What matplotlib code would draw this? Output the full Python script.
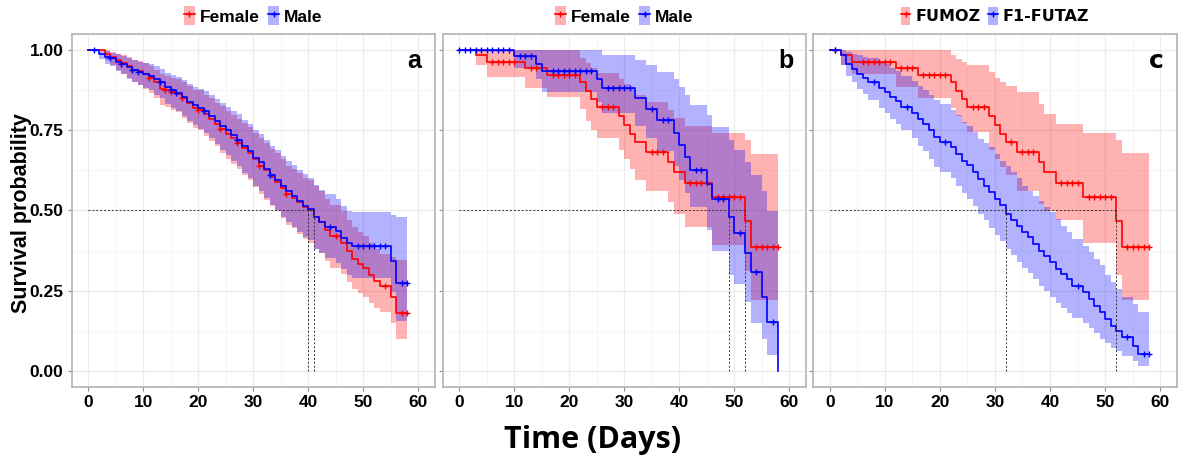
import matplotlib
matplotlib.use("Agg")
import numpy as np
import matplotlib.pyplot as plt
from matplotlib.patches import Patch
from matplotlib.lines import Line2D

# ---------------- data: Kaplan-Meier estimates (time in days) ----------------
T_END = 58

# panel a: Female / Male
a_f_time = [0, 3, 4, 5, 6, 7, 8, 9, 10, 11, 12, 13, 14, 15, 16, 17, 18, 19, 20, 21,
            22, 23, 24, 25, 26, 27, 28, 29, 30, 31, 32, 33, 34, 35, 36, 37, 38, 39, 40, 41,
            42, 43, 44, 46, 47, 48, 49, 50, 51, 52, 53, 55, 56]
a_f_surv = [1.0, 0.99, 0.98, 0.97, 0.96, 0.95, 0.94, 0.935, 0.925, 0.915, 0.90, 0.88, 0.875, 0.87,
            0.865, 0.85, 0.835, 0.82, 0.815, 0.80, 0.785, 0.77, 0.755, 0.74, 0.725, 0.71, 0.695,
            0.68, 0.66, 0.64, 0.625, 0.605, 0.59, 0.57, 0.55, 0.54, 0.525, 0.51, 0.50, 0.48,
            0.465, 0.44, 0.42, 0.40, 0.373, 0.35, 0.334, 0.32, 0.30, 0.28, 0.265, 0.23, 0.18]
a_f_lo = [1.0, 0.97, 0.955, 0.94, 0.925, 0.913, 0.90, 0.893, 0.88, 0.868, 0.85, 0.828, 0.822, 0.815,
          0.808, 0.79, 0.773, 0.757, 0.75, 0.733, 0.716, 0.70, 0.68, 0.66, 0.645, 0.628, 0.61,
          0.594, 0.572, 0.55, 0.534, 0.513, 0.497, 0.476, 0.455, 0.444, 0.428, 0.412, 0.40, 0.381,
          0.366, 0.342, 0.322, 0.303, 0.278, 0.256, 0.242, 0.23, 0.212, 0.195, 0.182, 0.15, 0.10]
a_f_hi = [1.0, 1.0, 0.995, 0.99, 0.985, 0.978, 0.97, 0.966, 0.96, 0.952, 0.94, 0.925, 0.92, 0.915,
          0.912, 0.90, 0.89, 0.877, 0.875, 0.862, 0.85, 0.837, 0.825, 0.81, 0.797, 0.785, 0.772,
          0.76, 0.742, 0.725, 0.71, 0.692, 0.678, 0.66, 0.64, 0.63, 0.617, 0.603, 0.595, 0.575,
          0.56, 0.537, 0.517, 0.497, 0.47, 0.447, 0.432, 0.42, 0.40, 0.38, 0.365, 0.355, 0.344]
a_f_cens = [6, 8, 11, 14, 15, 17, 20, 24, 27, 31, 36, 45, 54, 57, 58]

a_m_time = [0, 2, 3, 4, 5, 6, 7, 8, 9, 10, 11, 12, 13, 14, 15, 16, 17, 18, 19, 20, 21, 22, 23,
            24, 25, 26, 27, 28, 29, 30, 31, 32, 33, 34, 35, 36, 37, 38, 39, 40, 41, 42, 43,
            45, 46, 47, 48, 55, 56]
a_m_surv = [1.0, 0.99, 0.98, 0.975, 0.965, 0.958, 0.948, 0.94, 0.932, 0.925, 0.92, 0.91, 0.90,
            0.885, 0.875, 0.868, 0.855, 0.84, 0.83, 0.82, 0.81, 0.795, 0.78, 0.765, 0.75, 0.735,
            0.72, 0.70, 0.685, 0.665, 0.65, 0.63, 0.61, 0.595, 0.575, 0.56, 0.545, 0.53, 0.515,
            0.505, 0.48, 0.465, 0.45, 0.435, 0.415, 0.40, 0.388, 0.342, 0.273]
a_m_lo = [1.0, 0.972, 0.958, 0.95, 0.936, 0.926, 0.912, 0.902, 0.892, 0.882, 0.875, 0.862, 0.85,
          0.832, 0.82, 0.812, 0.796, 0.778, 0.766, 0.754, 0.742, 0.725, 0.708, 0.69, 0.673, 0.656,
          0.64, 0.617, 0.60, 0.578, 0.562, 0.54, 0.518, 0.502, 0.48, 0.465, 0.449, 0.433, 0.417,
          0.407, 0.381, 0.366, 0.351, 0.336, 0.316, 0.30, 0.29, 0.245, 0.156]
a_m_hi = [1.0, 1.0, 0.997, 0.993, 0.988, 0.983, 0.976, 0.97, 0.965, 0.96, 0.956, 0.95, 0.942,
          0.93, 0.922, 0.917, 0.906, 0.895, 0.887, 0.88, 0.872, 0.86, 0.848, 0.836, 0.824, 0.812,
          0.80, 0.782, 0.77, 0.752, 0.738, 0.72, 0.702, 0.688, 0.67, 0.655, 0.641, 0.627, 0.613,
          0.603, 0.58, 0.565, 0.55, 0.535, 0.515, 0.50, 0.495, 0.487, 0.479]
a_m_cens = [1, 4, 6, 8, 9, 13, 15, 16, 21, 27, 33, 44, 49, 50, 51, 52, 53, 54, 57, 58]

# panel b: Female / Male
b_f_time = [0, 3, 5, 12, 16, 22, 23, 24, 25, 29, 30, 31, 32, 34, 38, 39, 41, 46, 52, 53]
b_f_surv = [1.0, 0.984, 0.965, 0.944, 0.922, 0.90, 0.872, 0.847, 0.823, 0.795, 0.768, 0.74,
            0.714, 0.684, 0.65, 0.62, 0.585, 0.542, 0.466, 0.385]
b_f_lo = [1.0, 0.953, 0.918, 0.882, 0.854, 0.818, 0.78, 0.752, 0.725, 0.69, 0.66, 0.628, 0.595,
          0.56, 0.525, 0.49, 0.448, 0.392, 0.31, 0.22]
b_f_hi = [1.0, 1.0, 1.0, 1.0, 1.0, 0.975, 0.96, 0.945, 0.93, 0.91, 0.895, 0.875, 0.86, 0.84,
          0.815, 0.79, 0.765, 0.742, 0.72, 0.675]
b_f_cens = [6, 7, 8, 9, 10, 13, 14, 17, 18, 19, 20, 21, 26, 27, 28, 35, 36, 37, 42, 43, 44, 45,
            47, 48, 49, 50, 51, 54, 55, 56, 57, 58]

b_m_time = [0, 10, 14, 15, 25, 26, 32, 34, 36, 39, 40, 41, 42, 45, 46, 49, 50, 52, 53, 55, 56, 58]
b_m_surv = [1.0, 0.981, 0.958, 0.937, 0.911, 0.882, 0.85, 0.818, 0.783, 0.742, 0.703, 0.667,
            0.625, 0.583, 0.536, 0.48, 0.43, 0.368, 0.307, 0.229, 0.153, 0.0]
b_m_lo = [1.0, 0.945, 0.912, 0.87, 0.84, 0.805, 0.765, 0.727, 0.685, 0.64, 0.595, 0.555, 0.51,
          0.44, 0.375, 0.30, 0.27, 0.213, 0.15, 0.10, 0.05, 0.0]
b_m_hi = [1.0, 1.0, 1.0, 1.0, 1.0, 0.986, 0.969, 0.953, 0.932, 0.911, 0.885, 0.859, 0.828, 0.797,
          0.76, 0.72, 0.69, 0.65, 0.61, 0.56, 0.50, 0.0]
b_m_cens = [0, 1, 2, 3, 4, 5, 6, 7, 8, 9, 11, 12, 13, 17, 18, 19, 20, 21, 22, 23, 24, 27, 28, 29,
            30, 31, 35, 37, 38, 43, 44, 47, 48, 51, 54, 57]

# panel c: FUMOZ / F1-FUTAZ
c_f_time = [0, 2, 4, 12, 16, 22, 23, 24, 25, 29, 30, 31, 32, 34, 38, 39, 41, 46, 52, 53]
c_f_surv = [1.0, 0.984, 0.964, 0.945, 0.924, 0.90, 0.872, 0.847, 0.823, 0.795, 0.768, 0.74,
            0.714, 0.684, 0.65, 0.62, 0.585, 0.542, 0.466, 0.385]
c_f_lo = [1.0, 0.955, 0.925, 0.885, 0.851, 0.82, 0.795, 0.772, 0.745, 0.69, 0.66, 0.635, 0.61,
          0.56, 0.52, 0.50, 0.47, 0.40, 0.30, 0.22]
c_f_hi = [1.0, 1.0, 1.0, 1.0, 1.0, 0.986, 0.974, 0.965, 0.953, 0.932, 0.915, 0.90, 0.89, 0.87,
          0.833, 0.802, 0.771, 0.742, 0.719, 0.679]
c_f_cens = [1, 6, 7, 8, 9, 10, 11, 13, 14, 15, 17, 18, 19, 20, 21, 26, 27, 28, 33, 35, 36, 37,
            42, 43, 44, 45, 47, 48, 49, 50, 51, 54, 55, 56, 57, 58]

c_m_time = [0, 2, 3, 4, 5, 6, 7, 9, 10, 11, 12, 13, 15, 16, 17, 18, 19, 20, 22, 23, 24, 25, 26,
            27, 28, 29, 30, 31, 32, 33, 34, 35, 36, 37, 38, 39, 40, 41, 42, 43, 44, 46, 47, 48,
            49, 50, 51, 52, 53, 55, 56]
c_m_surv = [1.0, 0.984, 0.958, 0.943, 0.927, 0.914, 0.901, 0.882, 0.870, 0.854, 0.841, 0.823,
            0.805, 0.786, 0.771, 0.75, 0.729, 0.714, 0.698, 0.677, 0.656, 0.641, 0.62, 0.599,
            0.578, 0.557, 0.536, 0.516, 0.49, 0.469, 0.453, 0.432, 0.417, 0.396, 0.375, 0.359,
            0.339, 0.318, 0.302, 0.286, 0.264, 0.245, 0.224, 0.203, 0.182, 0.161, 0.141, 0.125,
            0.104, 0.078, 0.052]
c_m_lo = [1.0, 0.955, 0.92, 0.90, 0.88, 0.865, 0.845, 0.82, 0.805, 0.785, 0.77, 0.75, 0.725,
          0.70, 0.685, 0.66, 0.635, 0.62, 0.60, 0.575, 0.555, 0.535, 0.515, 0.49, 0.47, 0.445,
          0.425, 0.405, 0.38, 0.36, 0.34, 0.32, 0.305, 0.285, 0.265, 0.25, 0.23, 0.21, 0.195,
          0.18, 0.165, 0.15, 0.133, 0.117, 0.10, 0.085, 0.072, 0.06, 0.045, 0.03, 0.016]
c_m_hi = [1.0, 1.0, 0.995, 0.99, 0.985, 0.98, 0.975, 0.965, 0.958, 0.945, 0.935, 0.92, 0.905,
          0.89, 0.875, 0.86, 0.845, 0.833, 0.815, 0.797, 0.776, 0.765, 0.745, 0.724, 0.71, 0.698,
          0.677, 0.656, 0.64, 0.62, 0.60, 0.578, 0.562, 0.545, 0.53, 0.51, 0.495, 0.474, 0.453,
          0.432, 0.41, 0.39, 0.37, 0.35, 0.33, 0.30, 0.276, 0.255, 0.229, 0.208, 0.182]
c_m_cens = [1, 8, 14, 21, 45, 54, 57, 58]

panels = [
    dict(tag="a", names=["Female", "Male"],
         curves=[(a_f_time, a_f_surv, a_f_lo, a_f_hi, a_f_cens),
                 (a_m_time, a_m_surv, a_m_lo, a_m_hi, a_m_cens)]),
    dict(tag="b", names=["Female", "Male"],
         curves=[(b_f_time, b_f_surv, b_f_lo, b_f_hi, b_f_cens),
                 (b_m_time, b_m_surv, b_m_lo, b_m_hi, b_m_cens)]),
    dict(tag="c", names=["FUMOZ", "F1-FUTAZ"],
         curves=[(c_f_time, c_f_surv, c_f_lo, c_f_hi, c_f_cens),
                 (c_m_time, c_m_surv, c_m_lo, c_m_hi, c_m_cens)]),
]

x_ticks = [0, 10, 20, 30, 40, 50, 60]
y_ticks = [0.0, 0.25, 0.50, 0.75, 1.00]
y_tick_labels = ["0.00", "0.25", "0.50", "0.75", "1.00"]

# ---------------- styling ----------------
COLORS = ["#FF0000", "#0000FF"]
ARIAL = ["Liberation Sans", "DejaVu Sans"]
W, H = 1186, 468
fig = plt.figure(figsize=(W / 100, H / 100), dpi=100)

ax_left = [71.7, 442.7, 813.3]
ax_w = 363.3
ax_top, ax_bot = 34.3, 386.7


def extend(t, v):
    tt = np.append(np.asarray(t, float), T_END)
    vv = np.append(np.asarray(v, float), v[-1])
    return tt, vv


def median_time(t, s):
    s = np.asarray(s)
    idx = np.where(s <= 0.5)[0]
    return t[idx[0]] if len(idx) else None


for i, p in enumerate(panels):
    ax = fig.add_axes([ax_left[i] / W, 1 - ax_bot / H, ax_w / W, (ax_bot - ax_top) / H])
    ax.set_xlim(-3, 63)
    ax.set_ylim(-0.05, 1.05)
    ax.set_axisbelow(True)

    ax.set_xticks(x_ticks)
    ax.set_xticks(np.arange(5, 60, 10), minor=True)
    ax.set_yticks(y_ticks)
    ax.set_yticks([0.125, 0.375, 0.625, 0.875], minor=True)
    ax.grid(which="major", color="#EBEBEB", lw=0.9)
    ax.grid(which="minor", color="#F4F4F4", lw=0.6)
    ax.tick_params(which="minor", length=0)
    ax.tick_params(which="major", length=3, color="#8C8C8C", width=0.8, pad=3)
    for sp in ax.spines.values():
        sp.set_color("#B3B3B3")
        sp.set_linewidth(1.2)

    ax.set_xticklabels([str(v) for v in x_ticks], fontsize=12.5, fontweight="bold", family=ARIAL)
    if i == 0:
        ax.set_yticklabels(y_tick_labels, fontsize=12.5, fontweight="bold", family=ARIAL)
    else:
        ax.set_yticklabels([])

    # confidence bands
    for (t, s, lo, hi, cens), col in zip(p["curves"], COLORS):
        tt, lo_e = extend(t, lo)
        _, hi_e = extend(t, hi)
        ax.fill_between(tt, lo_e, hi_e, step="post", color=col, alpha=0.3, lw=0)

    # survival step lines and censoring marks
    medians = []
    for (t, s, lo, hi, cens), col in zip(p["curves"], COLORS):
        tt, ss = extend(t, s)
        ax.step(tt, ss, where="post", color=col, lw=1.2)
        idx = np.searchsorted(np.asarray(t), np.asarray(cens), side="right") - 1
        ax.plot(cens, np.asarray(s)[idx], ls="none", marker="+", color=col, ms=5, mew=1.0)
        medians.append(median_time(t, s))

    # median survival guide lines
    ax.plot([0, max(medians)], [0.5, 0.5], ls=(0, (2, 2)), color="#333333", lw=0.7)
    for m in medians:
        ax.plot([m, m], [0, 0.5], ls=(0, (2, 2)), color="#333333", lw=0.7)

    # panel tag
    tag_family = ARIAL if p["tag"] != "c" else ["DejaVu Sans"]
    ax.text(59.3, 0.968, p["tag"], ha="center", va="center", fontsize=18,
            fontweight="bold", family=tag_family)

    # legend above the panel
    handles = []
    for col in COLORS:
        patch = Patch(facecolor=col, alpha=0.3, edgecolor="none")
        line = Line2D([], [], color=col, lw=1.2, marker="+", ms=5, mew=1.0)
        handles.append((patch, line))
    leg_family = ARIAL if p["tag"] != "c" else ["DejaVu Sans"]
    ax.legend(handles, p["names"], loc="center", bbox_to_anchor=(0.5, 1 + 18.5 / (ax_bot - ax_top)),
              ncol=2, frameon=False, handlelength=0.6, handleheight=1.3, handletextpad=0.3,
              columnspacing=0.5, borderaxespad=0, borderpad=0,
              prop=dict(family=leg_family, weight="bold", size=12.5 if p["tag"] != "c" else 11.5))

fig.text(22 / W, 1 - 213 / H, "Survival probability", rotation=90, ha="center", va="center",
         fontsize=15.5, fontweight="bold", family=ARIAL)
fig.text(0.5, 1 - 440 / H, "Time (Days)", ha="center", va="center", fontsize=22,
         fontweight="bold", family=["Open Sans", "DejaVu Sans"])

fig.savefig("out.png", dpi=100, facecolor="white")
